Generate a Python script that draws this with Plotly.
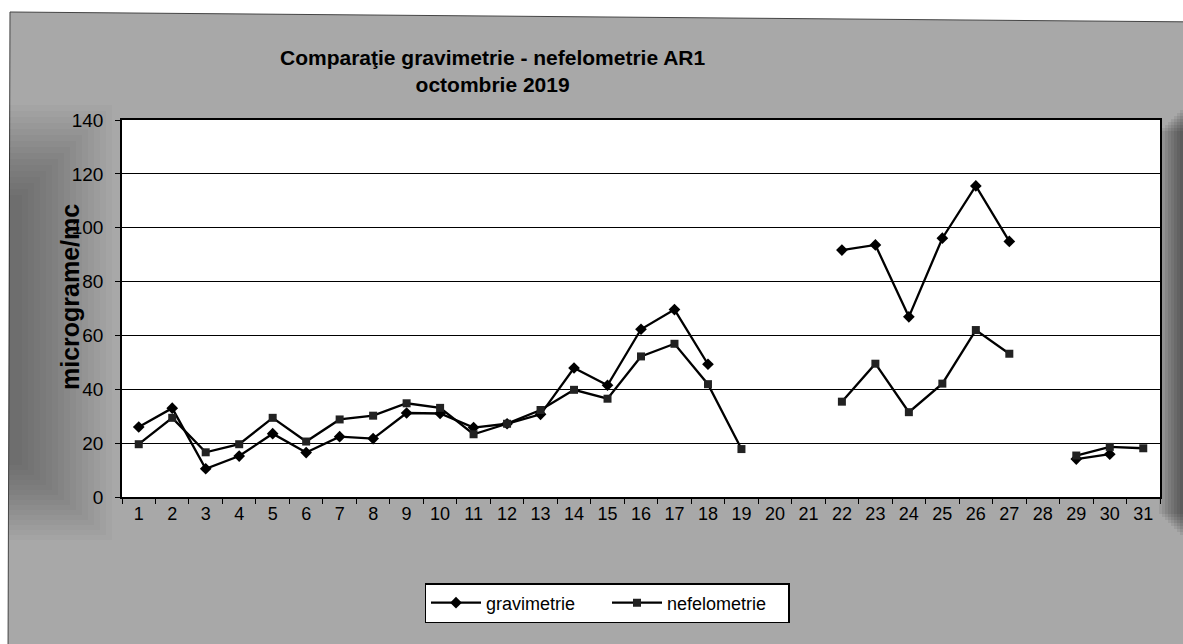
import plotly.graph_objects as go

days = [str(d) for d in range(1, 32)]
gravimetrie = [26.0, 33.0, 10.5, 15.2, 23.5, 16.5, 22.4, 21.7, 31.2, 31.0,
               25.8, 27.2, 30.7, 47.9, 41.5, 62.3, 69.6, 49.3, None, None,
               None, 91.7, 93.6, 66.9, 96.1, 115.5, 94.9, None, 14.1, 15.9, None]
nefelometrie = [19.6, 29.4, 16.6, 19.6, 29.4, 20.6, 28.8, 30.2, 34.8, 33.1,
                23.3, 27.2, 32.3, 39.8, 36.5, 52.2, 56.9, 41.9, 17.8, None,
                None, 35.4, 49.5, 31.5, 42.1, 62.0, 53.2, None, 15.4, 18.6, 18.1]
y_ticks = [0, 20, 40, 60, 80, 100, 120, 140]

W, H = 1183, 644
# plot area in page pixels
L, R, T, B = 122, 1160, 120, 497
pw, ph = R - L, B - T


def px(x):
    return (x - L) / pw


def py(y):
    return (B - y) / ph


fig = go.Figure()
fig.add_trace(go.Scatter(
    x=days, y=gravimetrie, name="gravimetrie", mode="lines+markers",
    line=dict(color="black", width=2.3),
    marker=dict(symbol="diamond", size=9, color="black"),
    connectgaps=False))
fig.add_trace(go.Scatter(
    x=days, y=nefelometrie, name="nefelometrie", mode="lines+markers",
    line=dict(color="black", width=2.3),
    marker=dict(symbol="square", size=8, color="#222222"),
    connectgaps=False))

bg_path = "M {:.5f} {:.5f} L {:.5f} {:.5f} L {:.5f} {:.5f} L {:.5f} {:.5f} Z".format(
    px(10), py(12), px(W + 20), py(22), px(W + 20), py(H + 20), px(8), py(H + 20))
shapes = [
    dict(type="path", xref="paper", yref="paper", layer="below", path=bg_path,
         fillcolor="#a8a8a8", line=dict(color="#444444", width=1)),
]
# darker vignette on the left edge (accumulating bands)
for i in range(16):
    shapes.append(dict(type="rect", xref="paper", yref="paper", layer="below",
                       x0=px(9), x1=px(112 - i * 6), y0=py(105 + i * 6), y1=py(540 - i * 5),
                       fillcolor="black", opacity=0.022, line=dict(width=0)))
# darker right edge
for i in range(8):
    shapes.append(dict(type="rect", xref="paper", yref="paper", layer="below",
                       x0=px(W - 3 - i * 3), x1=px(W + 20), y0=py(110 + i * 3), y1=py(535 - i * 3),
                       fillcolor="black", opacity=0.07, line=dict(width=0)))
# white plotting area
shapes.append(dict(type="rect", xref="paper", yref="paper", layer="below",
                   x0=0, x1=1, y0=0, y1=1, fillcolor="white", line=dict(width=0)))

fig.update_layout(
    width=W, height=H,
    margin=dict(l=L, r=W - R, t=T, b=H - B),
    paper_bgcolor="white", plot_bgcolor="white",
    font=dict(family="Liberation Sans, Arial, sans-serif", color="black", size=17),
    shapes=shapes,
    showlegend=True,
    legend=dict(orientation="h", x=px(607), y=py(603), xanchor="center", yanchor="middle",
                bgcolor="white", bordercolor="black", borderwidth=1.5,
                font=dict(size=18), entrywidth=116, itemwidth=50),
    annotations=[
        dict(text="<b>Comparaţie gravimetrie - nefelometrie AR1<br>octombrie 2019</b>",
             xref="paper", yref="paper", x=px(493), y=py(71),
             xanchor="center", yanchor="middle", showarrow=False,
             font=dict(size=21, color="black")),
        dict(text="<b>micrograme/mc</b>", textangle=-90,
             xref="paper", yref="paper", x=px(70), y=py(297),
             xanchor="center", yanchor="middle", showarrow=False,
             font=dict(size=25, color="black")),
    ],
)
fig.update_xaxes(type="category", categoryorder="array", categoryarray=days,
                 range=[-0.5, 30.5], tickson="boundaries", ticks="outside",
                 ticklen=5, tickcolor="black", showline=True, linecolor="black",
                 linewidth=1.5, mirror=True, showgrid=False,
                 tickfont=dict(size=18), fixedrange=True)
fig.update_yaxes(range=[0, 140], tickvals=y_ticks, ticks="outside", ticklen=5,
                 tickcolor="black", showline=True, linecolor="black", linewidth=1.5,
                 mirror=True, showgrid=True, gridcolor="black", gridwidth=1,
                 zeroline=False, tickfont=dict(size=19), ticklabelstandoff=8,
                 fixedrange=True)

fig.write_html("out.html", config={"displayModeBar": False},
               post_script="document.body.style.margin='0';document.body.style.overflow='hidden';")
